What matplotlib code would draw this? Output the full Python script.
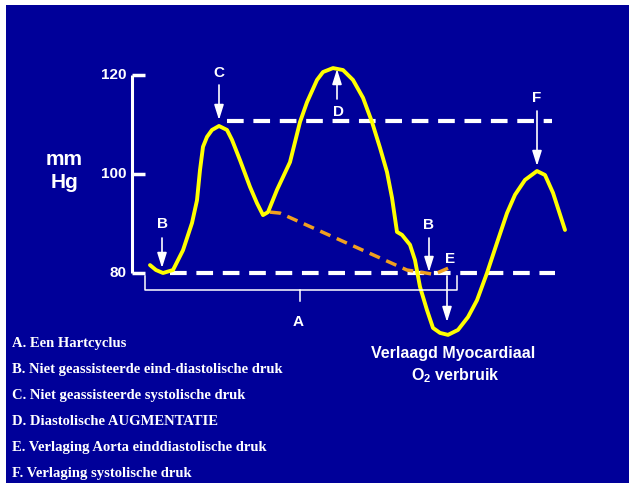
import matplotlib
matplotlib.use("Agg")
import matplotlib.pyplot as plt

plt.rcParams['lines.scale_dashes'] = False
plt.rcParams['mathtext.fontset'] = 'custom'
plt.rcParams['mathtext.rm'] = 'Liberation Sans:bold'
plt.rcParams['mathtext.it'] = 'Liberation Sans:bold'
plt.rcParams['mathtext.bf'] = 'Liberation Sans:bold'

# ---- data (time in arbitrary units, pressure in mmHg) ----
time = [150, 156, 163, 173, 183, 192, 197, 200, 203, 207, 212, 219, 227, 232, 240,
        250, 257, 263, 268, 277, 290, 300, 307, 317, 323, 333, 343, 353, 363, 372,
        380, 387, 392, 397, 402, 410, 415, 420, 427, 433, 440, 448, 458, 468, 477,
        487, 497, 507, 515, 525, 537, 545, 553, 565]
pressure = [81.6, 80.6, 80.0, 80.6, 84.6, 90.1, 94.7, 100.8, 105.5, 107.5, 108.9, 109.7,
            108.9, 106.9, 102.8, 97.4, 94.1, 91.7, 92.3, 96.8, 102.4, 110.5, 114.5, 119.0,
            120.6, 121.4, 121.0, 119.0, 115.4, 110.5, 105.3, 100.4, 95.2, 88.3, 87.7, 85.7,
            82.6, 77.2, 72.5, 68.9, 67.9, 67.5, 68.5, 71.1, 74.5, 80.0, 86.1, 92.1, 95.8,
            98.8, 100.6, 99.8, 96.2, 88.7]

unassisted_time = [270, 280, 407, 432, 437, 453]
unassisted_pressure = [92.3, 92.1, 80.6, 79.8, 80.0, 81.4]

yticks = [80, 100, 120]
systolic_level = 110.7
diastolic_level = 80

legend_lines = ["A. Een Hartcyclus",
                "B. Niet geassisteerde eind-diastolische druk",
                "C. Niet geassisteerde systolische druk",
                "D. Diastolische AUGMENTATIE",
                "E. Verlaging Aorta einddiastolische druk",
                "F. Verlaging systolische druk"]

BLUE = '#000099'
W, H = 629, 483
PX = 4.95  # pixels per mmHg


def p(ypix):
    return 80 + (273 - ypix) / PX


fig = plt.figure(figsize=(W / 100, H / 100), dpi=100, facecolor='white')
ax = fig.add_axes([6 / W, 0, (W - 6) / W, (H - 5) / H])
ax.set_facecolor(BLUE)
ax.set_xlim(6, W)
ax.set_ylim(p(H), p(5))
for s in ax.spines.values():
    s.set_visible(False)
ax.set_xticks([])
ax.set_yticks([])

# y axis
ax.plot([132, 132], [yticks[0], yticks[-1]], color='white', lw=2.2, solid_capstyle='butt')
for t in yticks:
    ax.plot([132, 145], [t, t], color='white', lw=2.5, solid_capstyle='butt')
    ax.text(127, t, str(t), color='white', ha='right', va='center',
            fontsize=11, fontweight='bold', family='Liberation Sans')

fig.text(64 / W, 1 - 159 / H, "mm", color='white', ha='center', va='center',
         fontsize=15, fontweight='bold', family='Liberation Sans')
fig.text(64 / W, 1 - 183 / H, "Hg", color='white', ha='center', va='center',
         fontsize=15, fontweight='bold', family='Liberation Sans')

# dashed reference lines
ax.plot([227, 552], [systolic_level] * 2, color='white', lw=3, dashes=(12, 7))
ax.plot([170, 555], [diastolic_level] * 2, color='white', lw=3, dashes=(12, 7))

# curves
ax.plot(unassisted_time, unassisted_pressure, color='#F0A020', lw=2.5, dashes=(8, 5))
ax.plot(time, pressure, color='#FFFF00', lw=2.8, solid_joinstyle='round',
        solid_capstyle='round')

# bracket A
ya, yb = p(276), p(290)
ax.plot([145, 145, 457, 457], [ya, yb, yb, ya], color='white', lw=1.1)
ax.plot([300, 300], [yb, p(301)], color='white', lw=1.1)

# arrows
arrow_kw = dict(arrowstyle='-|>,head_length=0.7,head_width=0.22', color='white',
                lw=1.2, shrinkA=0, shrinkB=0, mutation_scale=13)
arrows = [((162, p(238)), (162, p(268))),
          ((219, p(85)), (219, p(120))),
          ((337, p(99)), (337, p(69))),
          ((537, p(111)), (537, p(166))),
          ((429, p(238)), (429, p(272))),
          ((447, p(276)), (447, p(322)))]
for start, end in arrows:
    ax.annotate('', xy=end, xytext=start, arrowprops=arrow_kw)

labels = [("B", 162, 224), ("C", 219, 73), ("D", 339, 112), ("F", 537, 98),
          ("B", 429, 225), ("E", 450, 259), ("A", 298, 322)]
for s, x, y in labels:
    ax.text(x, p(y), s, color='white', ha='center', va='center', fontsize=11,
            fontweight='bold', family='Liberation Sans')

ax.text(453, p(354), "Verlaagd Myocardiaal", color='white', ha='center', va='center',
        fontsize=11.5, fontweight='bold', family='Liberation Sans')
ax.text(455, p(376), r"O$_\mathrm{2}$ verbruik", color='white', ha='center', va='center',
        fontsize=11.5, fontweight='bold', family='Liberation Sans')

for i, line in enumerate(legend_lines):
    y = 343 + i * 26.1
    fig.text(12 / W, 1 - y / H, line, color='white', ha='left', va='center',
             fontsize=10.5, fontweight='bold', family='Liberation Serif')

fig.savefig('out.png', dpi=100, facecolor='white')
